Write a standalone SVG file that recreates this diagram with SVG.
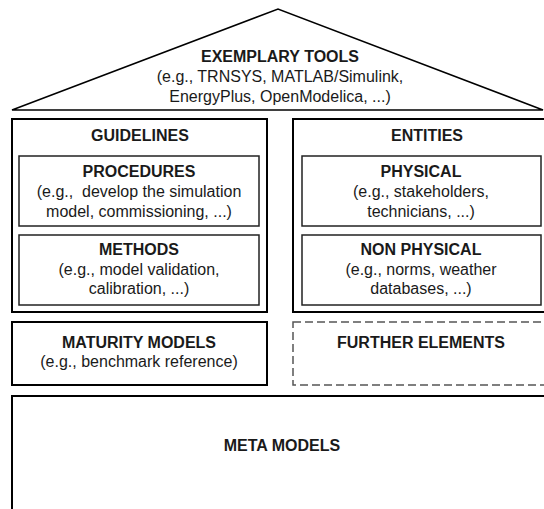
<svg xmlns="http://www.w3.org/2000/svg" width="544" height="509" viewBox="0 0 544 509">
<style>
text{font-family:"Liberation Sans",Arial,sans-serif;font-size:16px;fill:#1a1a1a;text-anchor:middle}
.b{font-weight:bold}
.outer{fill:none;stroke:#000;stroke-width:2}
.inner{fill:none;stroke:#222;stroke-width:1.5}
.dash{fill:none;stroke:#555;stroke-width:1.5;stroke-dasharray:8 4}
</style>
<rect width="544" height="509" fill="#fff"/>
<g id="roof">
<polygon points="12,110 278,9 543,110" fill="none" stroke="#000" stroke-width="1.5"/>
<text x="280" y="62" class="b">EXEMPLARY TOOLS</text>
<text x="280" y="82">(e.g., TRNSYS, MATLAB/Simulink,</text>
<text x="280" y="102">EnergyPlus, OpenModelica, ...)</text>
</g>
<g id="guidelines">
<rect class="outer" x="12" y="119" width="255" height="193"/>
<text x="140" y="141" class="b">GUIDELINES</text>
</g>
<g id="procedures">
<rect class="inner" x="19" y="156" width="240" height="70"/>
<text x="139" y="177" class="b">PROCEDURES</text>
<text x="139" y="197" xml:space="preserve">(e.g.,  develop the simulation</text>
<text x="139" y="217">model, commissioning, ...)</text>
</g>
<g id="methods">
<rect class="inner" x="19" y="235" width="240" height="70"/>
<text x="139" y="255" class="b">METHODS</text>
<text x="139" y="275">(e.g., model validation,</text>
<text x="139" y="294">calibration, ...)</text>
</g>
<g id="entities">
<rect class="outer" x="293" y="119" width="270" height="193"/>
<text x="427" y="141" class="b">ENTITIES</text>
</g>
<g id="physical">
<rect class="inner" x="302" y="156" width="239" height="70"/>
<text x="421" y="177" class="b">PHYSICAL</text>
<text x="421" y="197">(e.g., stakeholders,</text>
<text x="421" y="217">technicians, ...)</text>
</g>
<g id="nonphysical">
<rect class="inner" x="302" y="235" width="239" height="70"/>
<text x="421" y="255" class="b">NON PHYSICAL</text>
<text x="421" y="275">(e.g., norms, weather</text>
<text x="421" y="294">databases, ...)</text>
</g>
<g id="maturity">
<rect class="outer" x="12" y="322" width="255" height="63"/>
<text x="139" y="348" class="b">MATURITY MODELS</text>
<text x="139" y="367">(e.g., benchmark reference)</text>
</g>
<g id="further">
<rect class="dash" x="293" y="322" width="270" height="63"/>
<text x="421" y="348" class="b">FURTHER ELEMENTS</text>
</g>
<g id="meta">
<rect class="outer" x="12" y="396" width="560" height="140"/>
<text x="282" y="451" class="b">META MODELS</text>
</g>
<g id="connectors"/>
</svg>
